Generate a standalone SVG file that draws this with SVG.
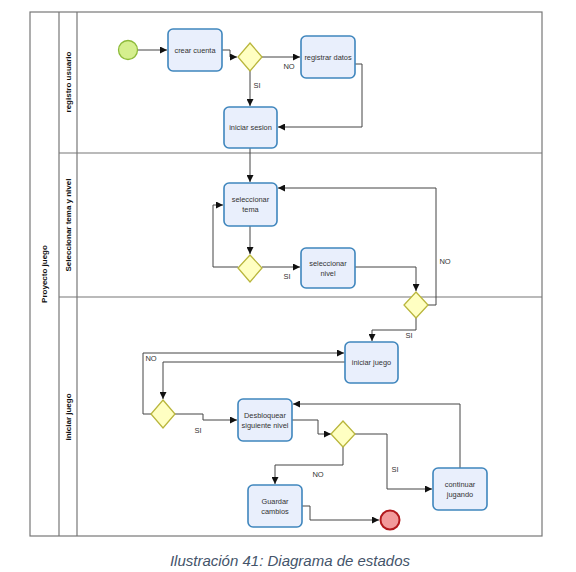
<svg xmlns="http://www.w3.org/2000/svg" width="576" height="572" viewBox="0 0 576 572">
<defs>
<marker id="arr" viewBox="0 0 8 8" refX="8" refY="4" markerWidth="7" markerHeight="7" markerUnits="userSpaceOnUse" orient="auto">
<path d="M0,0 L8,4 L0,8 z" fill="#111"/>
</marker>
</defs>
<style>
.pool{fill:#fff;stroke:#777;stroke-width:1.2}
.ln{stroke:#777;stroke-width:1.2;fill:none}
.task{fill:#e9effc;stroke:#3f86bd;stroke-width:1.6}
.gw{fill:#ffffc2;stroke:#b9b63c;stroke-width:1.3}
.tt{font-family:"Liberation Sans",Arial,sans-serif;font-size:7.4px;fill:#333;text-anchor:middle}
.lb{font-family:"Liberation Sans",Arial,sans-serif;font-size:7.5px;fill:#333;text-anchor:middle}
.hd{font-family:"Liberation Sans",Arial,sans-serif;font-size:8px;font-weight:bold;fill:#111;text-anchor:middle}
.c{stroke:#444;stroke-width:1;fill:none;marker-end:url(#arr);stroke-linejoin:round}
.cap{font-family:"Liberation Sans",Arial,sans-serif;font-size:15px;font-style:italic;fill:#44546a;text-anchor:middle}
</style>
<rect width="576" height="572" fill="#fff"/>
<g id="pool">
<rect class="pool" x="30" y="12" width="512" height="524"/>
<line class="ln" x1="59" y1="12" x2="59" y2="536"/>
<line class="ln" x1="77" y1="12" x2="77" y2="536"/>
<line class="ln" x1="59" y1="153" x2="542" y2="153"/>
<line class="ln" x1="59" y1="297" x2="542" y2="297"/>
<text class="hd" transform="translate(47,274) rotate(-90)">Proyecto juego</text>
<text class="hd" transform="translate(71,82) rotate(-90)">registro usuario</text>
<text class="hd" transform="translate(71,225) rotate(-90)">Seleccionar tema y nivel</text>
<text class="hd" transform="translate(71,417) rotate(-90)">iniciar juego</text>
</g>
<g id="connectors">
<path class="c" d="M138,50 H167"/>
<path class="c" d="M222,50 H230 V57 H237"/>
<path class="c" d="M262,57 H300"/>
<path class="c" d="M250,71 V106"/>
<path class="c" d="M355,64 H362 V127 H278"/>
<path class="c" d="M250,148 V182"/>
<path class="c" d="M250,226 V254"/>
<path class="c" d="M238,267 H213 V205 H223"/>
<path class="c" d="M262,267 H300"/>
<path class="c" d="M355,267 H416 V291"/>
<path class="c" d="M428,305 H436 V188 H278"/>
<path class="c" d="M416,318 V330 H372 V341"/>
<path class="c" d="M152,414 H143 V353 H344"/>
<path class="c" d="M345,362 H163 V399"/>
<path class="c" d="M175,414 H203 V420 H237"/>
<path class="c" d="M292,420 H318 V434 H331"/>
<path class="c" d="M354,434 H387 V489 H432"/>
<path class="c" d="M343,447 V465 H275 V484"/>
<path class="c" d="M460,468 V404 H293"/>
<path class="c" d="M302,506 H310 V520 H379"/>
<text class="lb" x="289" y="69">NO</text>
<text class="lb" x="257" y="88">SI</text>
<text class="lb" x="287" y="279">SI</text>
<text class="lb" x="445" y="264">NO</text>
<text class="lb" x="409" y="338">SI</text>
<text class="lb" x="151" y="361">NO</text>
<text class="lb" x="198" y="433">SI</text>
<text class="lb" x="318" y="477">NO</text>
<text class="lb" x="395" y="472">SI</text>
</g>
<g id="start"><circle cx="128" cy="50" r="9.5" fill="#d5ef8e" stroke="#8dbb3a" stroke-width="1.3"/></g>
<g id="crear-cuenta"><rect class="task" x="168" y="29" width="54" height="42" rx="5"/><text class="tt" x="195" y="53">crear cuenta</text></g>
<g id="gw1"><polygon class="gw" points="250,43 262,57 250,71 238,57"/></g>
<g id="registrar-datos"><rect class="task" x="301" y="36" width="54" height="42" rx="5"/><text class="tt" x="328" y="60">registrar datos</text></g>
<g id="iniciar-sesion"><rect class="task" x="224" y="107" width="53" height="41" rx="5"/><text class="tt" x="250.5" y="130">iniciar sesion</text></g>
<g id="seleccionar-tema"><rect class="task" x="224" y="183" width="53" height="43" rx="5"/><text class="tt" x="250.5" y="202">seleccionar</text><text class="tt" x="250.5" y="212">tema</text></g>
<g id="gw2"><polygon class="gw" points="250,255 262,268 250,282 238,268"/></g>
<g id="seleccionar-nivel"><rect class="task" x="301" y="248" width="54" height="40" rx="5"/><text class="tt" x="328" y="266">seleccionar</text><text class="tt" x="328" y="276">nivel</text></g>
<g id="gw3"><polygon class="gw" points="416,292 428,305 416,318 404,305"/></g>
<g id="iniciar-juego"><rect class="task" x="345" y="342" width="53" height="41" rx="5"/><text class="tt" x="371.5" y="365">iniciar juego</text></g>
<g id="gw4"><polygon class="gw" points="163,400 175,414 163,428 151,414"/></g>
<g id="desbloquear"><rect class="task" x="238" y="399" width="54" height="42" rx="5"/><text class="tt" x="265" y="418">Desbloquear</text><text class="tt" x="265" y="428">siguiente nivel</text></g>
<g id="gw5"><polygon class="gw" points="343,421 355,434 343,447 331,434"/></g>
<g id="continuar-jugando"><rect class="task" x="433" y="468" width="54" height="42" rx="5"/><text class="tt" x="460" y="487">continuar</text><text class="tt" x="460" y="497">jugando</text></g>
<g id="guardar-cambios"><rect class="task" x="248" y="485" width="54" height="42" rx="5"/><text class="tt" x="275" y="504">Guardar</text><text class="tt" x="275" y="514">cambios</text></g>
<g id="end"><circle cx="390" cy="520" r="9.5" fill="#f29a9b" stroke="#b2181c" stroke-width="2"/></g>
<text class="cap" x="290" y="566">Ilustración 41: Diagrama de estados</text>
</svg>
